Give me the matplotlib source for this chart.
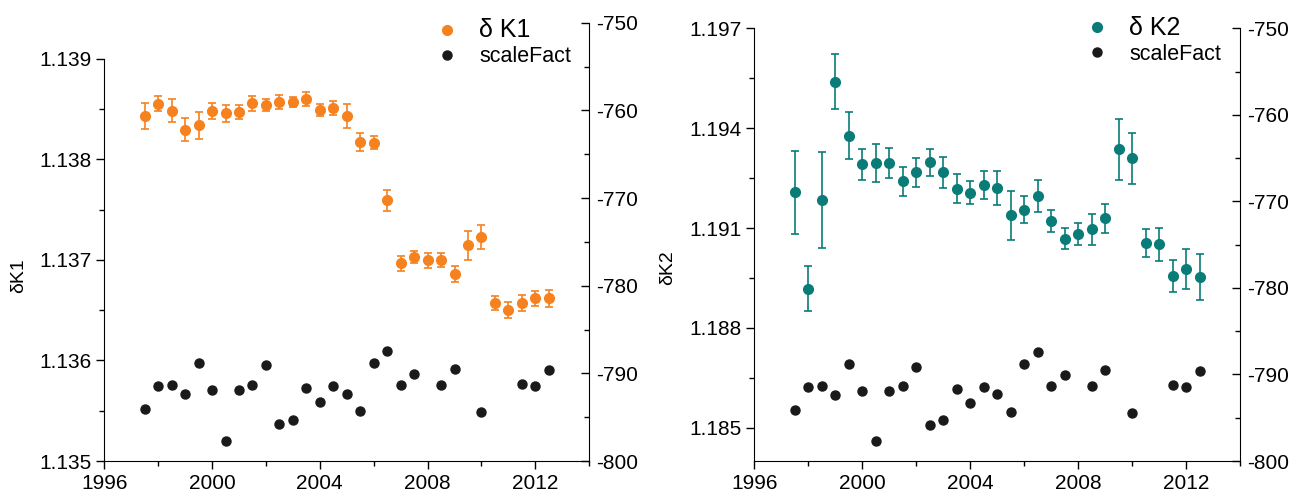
import numpy as np
import matplotlib
matplotlib.use("Agg")
import matplotlib.pyplot as plt
from matplotlib.ticker import MultipleLocator
from matplotlib.lines import Line2D

plt.rcParams['font.family'] = ['Liberation Sans', 'DejaVu Sans']
plt.rcParams['axes.unicode_minus'] = False

# time axis (half-year steps)
years = [1997.5 + 0.5 * i for i in range(31)]

# delta K1 and its error
dk1 = [1.138433, 1.138556, 1.138486, 1.138294, 1.138340, 1.138483, 1.138457, 1.138473,
       1.138559, 1.138543, 1.138569, 1.138572, 1.138602, 1.138493, 1.138510, 1.138433,
       1.138171, 1.138165, 1.137595, 1.136965, 1.137028, 1.136995, 1.137002, 1.136859,
       1.137144, 1.137227, 1.136574, 1.136501, 1.136574, 1.136617, 1.136617]
dk1_err = [0.000128, 0.000075, 0.000116, 0.000114, 0.000134, 0.000081, 0.000088, 0.000068,
           0.000073, 0.000063, 0.000068, 0.000051, 0.000068, 0.000061, 0.000068, 0.000119,
           0.000089, 0.000065, 0.000103, 0.000070, 0.000063, 0.000073, 0.000071, 0.000076,
           0.000146, 0.000116, 0.000071, 0.000080, 0.000078, 0.000078, 0.000080]

# delta K2 and its error
dk2 = [1.19207, 1.18917, 1.19184, 1.19540, 1.19377, 1.19291, 1.19295, 1.19295,
       1.19240, 1.19267, 1.19297, 1.19267, 1.19218, 1.19206, 1.19229, 1.19219,
       1.19138, 1.19155, 1.19196, 1.19120, 1.19068, 1.19081, 1.19096, 1.19129,
       1.19337, 1.19309, 1.19054, 1.19051, 1.18956, 1.18977, 1.18952]
dk2_err = [0.00125, 0.000675, 0.00143, 0.00083, 0.00071, 0.00047, 0.00056, 0.00044,
           0.00043, 0.00043, 0.00041, 0.00046, 0.00044, 0.00035, 0.00042, 0.00051,
           0.00073, 0.00040, 0.00048, 0.00033, 0.00031, 0.00033, 0.00047, 0.00044,
           0.00092, 0.00076, 0.00042, 0.00050, 0.00048, 0.00061, 0.00069]

# scale factor (right axis)
sf_years = [1997.5, 1998, 1998.5, 1999, 1999.5, 2000, 2000.5, 2001, 2001.5, 2002,
            2002.5, 2003, 2003.5, 2004, 2004.5, 2005, 2005.5, 2006, 2006.5, 2007,
            2007.5, 2008.5, 2009, 2010, 2011.5, 2012, 2012.5]
scale_fact = [-794.1, -791.5, -791.3, -792.4, -788.8, -791.9, -797.7, -791.9, -791.3, -789.1,
              -795.8, -795.3, -791.7, -793.3, -791.4, -792.3, -794.3, -788.8, -787.4, -791.3,
              -790.1, -791.3, -789.5, -794.4, -791.2, -791.5, -789.6]

orange = '#f5821f'
teal = '#0a7c78'
black = '#1a1a1a'

fig = plt.figure(figsize=(12.97, 4.93), dpi=100)


def panel(rect, y, yerr, color, ylim, spine_top, ymajor, name, ylab, leg_xy, lab_xy):
    ax = fig.add_axes(rect)
    ax.errorbar(years, y, yerr=yerr, fmt='o', color=color, ms=7, capsize=3.2,
                elinewidth=1.2, capthick=1.2, ecolor=color, zorder=3)
    ax.set_xlim(1996, 2014)
    ax.set_ylim(*ylim)
    ax.xaxis.set_major_locator(MultipleLocator(4))
    ax.xaxis.set_minor_locator(MultipleLocator(2))
    ax.yaxis.set_major_locator(MultipleLocator(ymajor))
    ax.yaxis.set_minor_locator(MultipleLocator(ymajor / 2))
    ax.yaxis.set_major_formatter(plt.FormatStrFormatter('%.3f'))
    ax.spines['top'].set_visible(False)
    ax.spines['right'].set_visible(False)
    ax.spines['left'].set_bounds(ylim[0], spine_top)
    ax.tick_params(which='major', direction='out', length=6, width=1, labelsize=15, pad=3)
    ax.tick_params(which='minor', direction='out', length=3.5, width=1)
    ax.set_ylabel(ylab, fontsize=14)
    ax.yaxis.set_label_coords(*lab_xy)

    ax2 = ax.twinx()
    ax2.plot(sf_years, scale_fact, 'o', color=black, ms=6.5, zorder=3)
    ax2.set_ylim(-800, -750)
    ax2.yaxis.set_major_locator(MultipleLocator(10))
    ax2.yaxis.set_minor_locator(MultipleLocator(5))
    for s in ['top', 'left', 'bottom']:
        ax2.spines[s].set_visible(False)
    ax2.tick_params(which='major', direction='in', length=6, width=1, labelsize=15, pad=5)
    ax2.tick_params(which='minor', direction='in', length=3.5, width=1)

    handles = [Line2D([], [], ls='none', marker='o', color=color, ms=7),
               Line2D([], [], ls='none', marker='o', color=black, ms=6.5)]
    leg = ax2.legend(handles, [name, 'scaleFact'], loc='upper left',
                     bbox_to_anchor=leg_xy, bbox_transform=fig.transFigure,
                     frameon=False, fontsize=15.5, handlelength=1.0,
                     handletextpad=1.0, labelspacing=0.2, borderpad=0)
    leg.get_texts()[0].set_fontsize(18)
    return ax, ax2


panel([0.0804, 0.0649, 0.3739, 0.889], dk1, dk1_err, orange,
      (1.135, 1.13936), 1.139, 0.001, '\u03b4 K1', '\u03b4K1',
      (0.328, 0.985), (-0.16, 0.424))
panel([0.5816, 0.0649, 0.3745, 0.8777], dk2, dk2_err, teal,
      (1.184, 1.197), 1.197, 0.003, '\u03b4 K2', '\u03b4K2',
      (0.829, 0.99), (-0.16, 0.446))

fig.savefig('out.png', dpi=100)
